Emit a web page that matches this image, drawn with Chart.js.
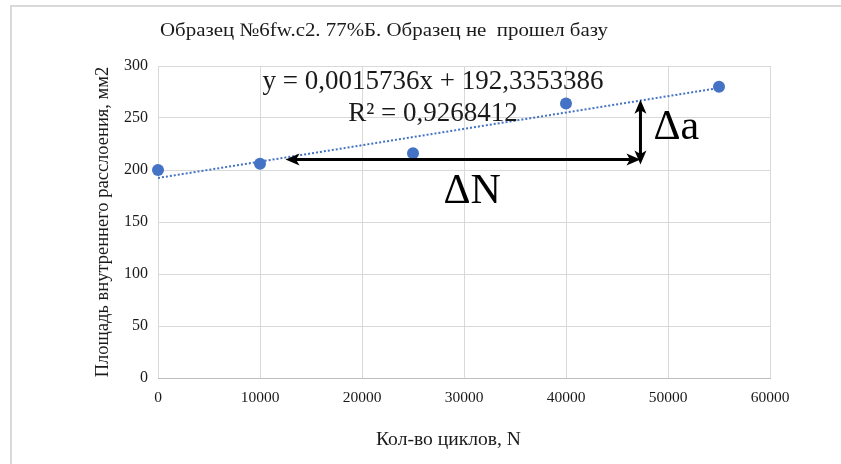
<!DOCTYPE html>
<html>
<head>
<meta charset="utf-8">
<script src="https://cdn.jsdelivr.net/npm/chart.js@4/dist/chart.umd.min.js"></script>
<style>
  html, body { margin: 0; padding: 0; background: #ffffff; }
  #wrap { width: 841px; height: 464px; position: relative; }
</style>
</head>
<body>
<div id="wrap"><canvas id="chart" width="841" height="464"></canvas></div>
<script>
// Measured delamination area vs. number of load cycles
const cycles = [0, 10000, 25000, 40000, 55000];
const areaMm2 = [200, 206, 216, 264, 280];

// Axis ticks
const xTicks = [0, 10000, 20000, 30000, 40000, 50000, 60000];
const yTicks = [0, 50, 100, 150, 200, 250, 300];

// Linear trendline y = k*x + b
const trendSlope = 0.0015736;
const trendIntercept = 192.3353386;
const trendR2 = 0.9268412;
const trendRange = [0, 55000];

// ΔN / Δa construction arrows (data coordinates)
const deltaNx = [12500, 47300];
const deltaNy = 210;
const deltaAx = 47300;
const deltaAy = [210, 267.5];

// Texts
const chartTitle = 'Образец №6fw.c2. 77%Б. Образец не  прошел базу';
const xTitle = 'Кол-во циклов, N';
const yTitle = 'Площадь внутреннего расслоения, мм2';

const SERIF = '"Liberation Serif", "Times New Roman", serif';
const BLUE = '#4472C4';
const GRID = '#d9d9d9';
const INK = '#1a1a1a';

const commaNum = v => String(v).replace('.', ',');

const pointData = cycles.map((c, i) => ({ x: c, y: areaMm2[i] }));
const trendData = trendRange.map(x => ({ x: x, y: trendSlope * x + trendIntercept }));

// Draws text starting at x, stretched horizontally to the given width
function fitText(ctx, text, x, y, width) {
  const w = ctx.measureText(text).width;
  ctx.save();
  ctx.translate(x, y);
  ctx.scale(width / w, 1);
  ctx.fillText(text, 0, 0);
  ctx.restore();
}

const framePlugin = {
  id: 'frame',
  beforeDraw(chart) {
    const ctx = chart.ctx;
    ctx.save();
    ctx.fillStyle = '#ffffff';
    ctx.fillRect(0, 0, chart.width, chart.height);
    ctx.strokeStyle = '#d9d9d9';
    ctx.lineWidth = 2;
    ctx.strokeRect(11, 6, chart.width + 20, chart.height + 20);
    ctx.restore();
  },
  afterDraw(chart) {
    const ctx = chart.ctx;
    ctx.save();
    ctx.fillStyle = INK;
    ctx.textAlign = 'left';
    ctx.textBaseline = 'middle';
    ctx.font = '19px ' + SERIF;
    fitText(ctx, chartTitle, 160, 31, 448);
    // x axis title
    ctx.font = '18.5px ' + SERIF;
    fitText(ctx, xTitle, 376, 440, 145);
    ctx.restore();
  }
};

function arrowHead(ctx, x, y, dx, dy) {
  // filled triangle pointing along (dx,dy)
  const len = 14, half = 6;
  const px = -dy, py = dx;
  ctx.beginPath();
  ctx.moveTo(x, y);
  ctx.lineTo(x - dx * len + px * half, y - dy * len + py * half);
  ctx.lineTo(x - dx * len * 0.75, y - dy * len * 0.75);
  ctx.lineTo(x - dx * len - px * half, y - dy * len - py * half);
  ctx.closePath();
  ctx.fill();
}

const annotatePlugin = {
  id: 'annotate',
  afterDatasetsDraw(chart) {
    const ctx = chart.ctx;
    const xs = chart.scales.x, ys = chart.scales.y;
    ctx.save();
    ctx.strokeStyle = '#000000';
    ctx.fillStyle = '#000000';
    ctx.lineWidth = 3;

    // ΔN arrow (double headed, horizontal)
    const nx0 = xs.getPixelForValue(deltaNx[0]);
    const nx1 = xs.getPixelForValue(deltaNx[1]);
    const ny = ys.getPixelForValue(deltaNy);
    ctx.beginPath();
    ctx.moveTo(nx0 + 8, ny);
    ctx.lineTo(nx1 - 8, ny);
    ctx.stroke();
    arrowHead(ctx, nx0, ny, -1, 0);
    arrowHead(ctx, nx1, ny, 1, 0);

    // Δa arrow (double headed, vertical)
    const ax = xs.getPixelForValue(deltaAx);
    const ay0 = ys.getPixelForValue(deltaAy[0]);
    const ay1 = ys.getPixelForValue(deltaAy[1]);
    ctx.beginPath();
    ctx.moveTo(ax, ay0 - 4);
    ctx.lineTo(ax, ay1 + 8);
    ctx.stroke();
    arrowHead(ctx, ax, ay0 + 5, 0, 1);
    arrowHead(ctx, ax, ay1, 0, -1);

    // Labels
    ctx.textBaseline = 'middle';
    ctx.font = '42px ' + SERIF;
    ctx.textAlign = 'center';
    ctx.fillText('ΔN', xs.getPixelForValue(30800), ys.getPixelForValue(178.5));
    ctx.textAlign = 'left';
    ctx.fillText('Δa', ax + 13, ys.getPixelForValue(240.5));

    // Trendline equation
    ctx.fillStyle = INK;
    ctx.font = '27px ' + SERIF;
    ctx.textAlign = 'center';
    const ex = xs.getPixelForValue(26960);
    ctx.fillText('y = ' + commaNum(trendSlope) + 'x + ' + commaNum(trendIntercept), ex, ys.getPixelForValue(285));
    ctx.fillText('R² = ' + commaNum(trendR2), ex, ys.getPixelForValue(254));
    ctx.restore();
  }
};

new Chart(document.getElementById('chart'), {
  type: 'scatter',
  data: {
    datasets: [
      {
        label: 'Площадь',
        data: pointData,
        backgroundColor: BLUE,
        borderColor: BLUE,
        pointRadius: 6,
        pointHoverRadius: 6,
        borderWidth: 0,
        clip: false
      },
      {
        label: 'Линейная',
        data: trendData,
        type: 'line',
        showLine: true,
        borderColor: BLUE,
        borderWidth: 2,
        borderDash: [2, 2],
        pointRadius: 0,
        fill: false,
        tension: 0
      }
    ]
  },
  options: {
    responsive: false,
    animation: false,
    devicePixelRatio: 1,
    layout: { padding: { left: 86, right: 71, top: 66, bottom: 0 } },
    plugins: {
      legend: { display: false },
      tooltip: { enabled: false },
      title: { display: false }
    },
    scales: {
      x: {
        type: 'linear',
        min: xTicks[0],
        max: xTicks[xTicks.length - 1],
        afterBuildTicks: s => { s.ticks = xTicks.map(v => ({ value: v })); },
        afterFit: s => { s.height = 86; },
        ticks: {
          padding: 11,
          color: INK,
          font: { family: SERIF, size: 15.5 },
          callback: v => String(v)
        },
        grid: { color: GRID, lineWidth: 1, drawTicks: false },
        border: { display: true, color: '#bfbfbf', width: 1 },
        title: { display: false }
      },
      y: {
        type: 'linear',
        min: yTicks[0],
        max: yTicks[yTicks.length - 1],
        afterBuildTicks: s => { s.ticks = yTicks.map(v => ({ value: v })); },
        afterFit: s => { s.width = 72; },
        ticks: {
          padding: 10,
          color: INK,
          font: { family: SERIF, size: 16 },
          callback: v => String(v)
        },
        grid: { color: GRID, lineWidth: 1, drawTicks: false },
        border: { display: false },
        title: {
          display: true,
          text: yTitle,
          color: INK,
          font: { family: SERIF, size: 18.5 },
          padding: { top: 6, bottom: 0 }
        }
      }
    }
  },
  plugins: [framePlugin, annotatePlugin]
});
</script>
</body>
</html>
